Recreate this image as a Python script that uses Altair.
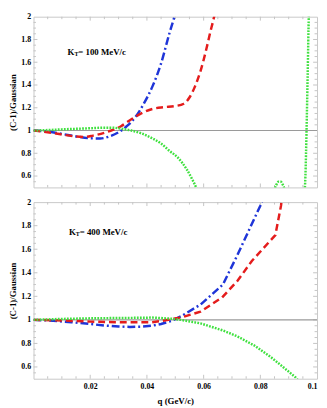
import altair as alt
import pandas as pd

# ---------------- data ----------------
# Top panel, K_T = 100 MeV/c
top_blue_q = [0, 0.005, 0.01, 0.015, 0.02, 0.0235, 0.027, 0.03, 0.033, 0.036, 0.039, 0.042, 0.045, 0.048, 0.0497, 0.051]
top_blue_v = [1.0, 0.99, 0.97, 0.948, 0.932, 0.93, 0.95, 0.985, 1.04, 1.12, 1.24, 1.39, 1.59, 1.86, 2.0, 2.12]

top_red_q = [0, 0.005, 0.01, 0.015, 0.018, 0.021, 0.025, 0.028, 0.031, 0.034, 0.038, 0.042, 0.046, 0.05, 0.053, 0.055, 0.057, 0.059, 0.061, 0.0625, 0.0637, 0.0645]
top_red_v = [1.0, 0.985, 0.965, 0.947, 0.943, 0.955, 0.98, 1.005, 1.04, 1.09, 1.15, 1.19, 1.205, 1.215, 1.235, 1.29, 1.39, 1.53, 1.72, 1.88, 2.0, 2.1]

top_green_q = [0, 0.005, 0.01, 0.015, 0.02, 0.025, 0.028, 0.031, 0.0345, 0.038, 0.042, 0.045, 0.048, 0.051, 0.054, 0.056, 0.0575, 0.0585]
top_green_v = [1.0, 1.004, 1.01, 1.015, 1.02, 1.025, 1.025, 1.015, 1.0, 0.975, 0.93, 0.885, 0.82, 0.76, 0.66, 0.57, 0.49, 0.42]
top_green_bump_q = [0.0848, 0.0856, 0.0864, 0.0872, 0.088, 0.0888]
top_green_bump_v = [0.47, 0.52, 0.55, 0.55, 0.52, 0.47]
top_green_pole_q = [0.0955, 0.0959, 0.0963, 0.0967, 0.0971, 0.0973]
top_green_pole_v = [0.42, 0.6, 1.0, 1.5, 2.0, 2.1]

# Bottom panel, K_T = 400 MeV/c
bot_blue_q = [0, 0.005, 0.0134, 0.02, 0.025, 0.03, 0.034, 0.038, 0.0418, 0.045, 0.0486, 0.052, 0.0589, 0.0668, 0.0719, 0.08, 0.0815]
bot_blue_v = [1.0, 0.995, 0.98, 0.965, 0.952, 0.944, 0.94, 0.942, 0.95, 0.965, 0.99, 1.03, 1.13, 1.3, 1.55, 1.97, 2.06]

bot_red_q = [0, 0.01, 0.015, 0.02, 0.03, 0.04, 0.0418, 0.045, 0.052, 0.0589, 0.0665, 0.0719, 0.077, 0.0853, 0.0873, 0.0877]
bot_red_v = [1.0, 0.995, 0.99, 0.985, 0.98, 0.98, 0.98, 0.99, 1.02, 1.07, 1.19, 1.33, 1.5, 1.72, 1.97, 2.06]

bot_green_q = [0, 0.01, 0.02, 0.03, 0.04, 0.0418, 0.0486, 0.052, 0.0589, 0.0668, 0.0719, 0.078, 0.0839, 0.088, 0.0925, 0.0935]
bot_green_v = [1.0, 1.008, 1.013, 1.016, 1.018, 1.02, 1.01, 1.0, 0.97, 0.91, 0.86, 0.78, 0.68, 0.6, 0.51, 0.48]

y_labels = [0.6, 0.8, 1.0, 1.2, 1.4, 1.6, 1.8, 2.0]
x_labels = [0.02, 0.04, 0.06, 0.08, 0.1]
x_minor = [0.005, 0.01, 0.015, 0.025, 0.03, 0.035, 0.045, 0.05, 0.055, 0.065, 0.07, 0.075, 0.085, 0.09, 0.095]
x_major = [0.02, 0.04, 0.06, 0.08]
y_minor = [0.55, 0.65, 0.7, 0.75, 0.85, 0.9, 0.95, 1.05, 1.1, 1.15, 1.25, 1.3, 1.35, 1.45, 1.5, 1.55,
           1.65, 1.7, 1.75, 1.85, 1.9, 1.95]
y_major = [0.6, 0.8, 1.0, 1.2, 1.4, 1.6, 1.8]

series = ["blue", "red", "green"]

# ---------------- styling ----------------
FONT = "Liberation Serif"
W = 289
H_TOP = 174
H_BOT = 180
BLUE = "#1f35d8"
RED = "#e41c1c"
GREEN = "#3fe03f"
TICK = "#c4c4c4"


def mk(qs, vs, s, seg):
    return pd.DataFrame({"q": qs, "v": vs, "series": s, "seg": seg})


top_df = pd.concat([
    mk(top_blue_q, top_blue_v, "blue", "b"),
    mk(top_red_q, top_red_v, "red", "r"),
    mk(top_green_q, top_green_v, "green", "g1"),
    mk(top_green_bump_q, top_green_bump_v, "green", "g2"),
    mk(top_green_pole_q, top_green_pole_v, "green", "g3"),
])
bot_df = pd.concat([
    mk(bot_blue_q, bot_blue_v, "blue", "b"),
    mk(bot_red_q, bot_red_v, "red", "r"),
    mk(bot_green_q, bot_green_v, "green", "g1"),
])

xscale = alt.Scale(domain=[0, 0.1], nice=False, zero=False)
yscale = alt.Scale(domain=[0.5, 2], nice=False, zero=False)


def panel(df, height, kt, ann_q, ann_v, show_x, interp):
    if show_x:
        xaxis = alt.Axis(values=x_labels, format="~g", title="q (GeV/c)", ticks=False,
                         domain=False, grid=False, labelPadding=4, titlePadding=6)
    else:
        xaxis = None
    yaxis = alt.Axis(values=y_labels, format="~g", title="(C-1)/Gaussian", ticks=False,
                     domain=False, grid=False, labelPadding=3, titlePadding=3)
    xenc = alt.X("q:Q", scale=xscale, axis=xaxis)
    yenc = alt.Y("v:Q", scale=yscale, axis=yaxis)

    L1, L2 = 2.5, 4
    xmin = pd.DataFrame({"q": x_minor})
    xmaj = pd.DataFrame({"q": x_major})
    ymin = pd.DataFrame({"v": y_minor})
    ymaj = pd.DataFrame({"v": y_major})
    layers = []
    for d, L in ((xmin, L1), (xmaj, L2)):
        layers.append(alt.Chart(d).mark_rule(color=TICK, strokeWidth=1).encode(
            x=xenc, y=alt.value(0), y2=alt.value(L)))
        layers.append(alt.Chart(d).mark_rule(color=TICK, strokeWidth=1).encode(
            x=xenc, y=alt.value(height - L), y2=alt.value(height)))
    for d, L in ((ymin, L1), (ymaj, L2)):
        layers.append(alt.Chart(d).mark_rule(color=TICK, strokeWidth=1).encode(
            y=yenc, x=alt.value(0), x2=alt.value(L)))
        layers.append(alt.Chart(d).mark_rule(color=TICK, strokeWidth=1).encode(
            y=yenc, x=alt.value(W - L), x2=alt.value(W)))

    one = pd.DataFrame({"v": [1.0]})
    layers.append(alt.Chart(one).mark_rule(color="#9a9a9a", strokeWidth=1.2).encode(y=yenc))

    lines = alt.Chart(df).mark_line(clip=True, strokeWidth=2.5, interpolate=interp).encode(
        x=xenc, y=yenc,
        color=alt.Color("series:N", scale=alt.Scale(domain=series, range=[BLUE, RED, GREEN]), legend=None),
        strokeDash=alt.StrokeDash("series:N", scale=alt.Scale(domain=series,
                                  range=[[8, 3, 2, 3], [7, 4], [1.8, 1.3]]), legend=None),
        detail="seg:N",
        order=alt.Order("q:Q"),
    )
    layers.append(lines)

    ann = pd.DataFrame({"q": [ann_q], "v": [ann_v]})
    base = dict(font=FONT, fontWeight="bold", align="left", baseline="middle", color="black")
    layers.append(alt.Chart(ann).mark_text(fontSize=9, text="K", **base).encode(x=xenc, y=yenc))
    layers.append(alt.Chart(ann).mark_text(fontSize=6, text="T", dx=7, dy=2.5, **base).encode(x=xenc, y=yenc))
    layers.append(alt.Chart(ann).mark_text(fontSize=9, text="= " + kt + " MeV/c", dx=11, **base).encode(x=xenc, y=yenc))

    return alt.layer(*layers).properties(width=W, height=height)


top = panel(top_df, H_TOP, "100", 0.012, 1.69, False, "monotone")
bot = panel(bot_df, H_BOT, "400", 0.0125, 1.75, True, "linear")

chart = alt.vconcat(top, bot, spacing=9).properties(
    padding={"left": 0, "top": 0, "right": 0, "bottom": 0}
).configure_view(
    stroke="#c8c8c8", strokeWidth=1
).configure_axis(
    labelFont=FONT, labelFontWeight="bold", labelFontSize=8, labelColor="black",
    titleFont=FONT, titleFontWeight="bold", titleFontSize=9, titleColor="black",
)

chart.save("out.html", embed_options={"renderer": "svg", "actions": False})
